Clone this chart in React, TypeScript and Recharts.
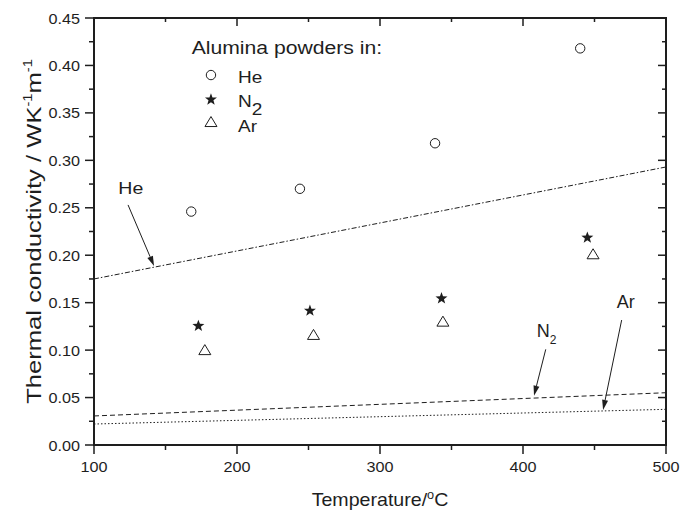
import React from 'react';
import { ComposedChart, XAxis, YAxis, Line, Scatter, ReferenceLine, ReferenceDot } from 'recharts';

const FONT = '"Liberation Sans", Arial, Helvetica, sans-serif';
const INK = '#1e1e1e';

// ticks
const xMajorTicks = [100, 200, 300, 400, 500];
const xAllTicks = [100, 150, 200, 250, 300, 350, 400, 450, 500];
const yMajorTicks = [0, 0.05, 0.1, 0.15, 0.2, 0.25, 0.3, 0.35, 0.4, 0.45];
const yAllTicks = [0, 0.025, 0.05, 0.075, 0.1, 0.125, 0.15, 0.175, 0.2, 0.225, 0.25, 0.275, 0.3, 0.325, 0.35, 0.375, 0.4, 0.425, 0.45];

// axis range
const tMin = 100;
const tMax = 500;
const kMin = 0;
const kMax = 0.45;

// measured points: Alumina powders in He, N2, Ar
const heTemp = [168, 244, 338.5, 440];
const heK = [0.246, 0.27, 0.318, 0.418];
const n2Temp = [173, 251, 343, 445];
const n2K = [0.126, 0.142, 0.155, 0.219];
const arTemp = [177.5, 253.5, 344, 449];
const arK = [0.1, 0.116, 0.13, 0.201];

// model lines
const fitTemp = [100, 500];
const heFitK = [0.175, 0.293];
const n2FitK = [0.0306, 0.0551];
const arFitK = [0.0221, 0.0376];

const zip = (ts: number[], ks: number[]) => ts.map((t, i) => ({ t, k: ks[i] }));
const heData = zip(heTemp, heK);
const n2Data = zip(n2Temp, n2K);
const arData = zip(arTemp, arK);
const heFit = zip(fitTemp, heFitK);
const n2Fit = zip(fitTemp, n2FitK);
const arFit = zip(fitTemp, arFitK);

// frame and tick anchors (built from the axis ranges and tick lists)
const frameData = [
  { t: tMin, k: kMin },
  { t: tMax, k: kMin },
  { t: tMax, k: kMax },
  { t: tMin, k: kMax },
  { t: tMin, k: kMin },
];
const bottomTickData = xAllTicks.map((t) => ({ t, k: kMin, side: 'b' }));
const topTickData = xAllTicks.map((t) => ({ t, k: kMax, side: 't' }));
const leftTickData = yAllTicks.map((k) => ({ t: tMin, k, side: 'l' }));
const rightTickData = yAllTicks.map((k) => ({ t: tMax, k, side: 'r' }));

const isMajorX = (v: number) => xMajorTicks.some((m) => Math.abs(m - v) < 1e-9);
const isMajorY = (v: number) => yMajorTicks.some((m) => Math.abs(m - v) < 1e-9);

const TW = 1.5;

const TickMark = (p: any) => {
  const d = p.payload || p;
  const { cx, cy } = p;
  if (d.side === 'b') {
    const len = isMajorX(d.t) ? 9 : 5;
    return <path d={`M${cx},${cy} V${cy + len}`} stroke={INK} strokeWidth={TW} fill="none" />;
  }
  if (d.side === 't') {
    const len = isMajorX(d.t) ? 8 : 4;
    return <path d={`M${cx},${cy} V${cy + len}`} stroke={INK} strokeWidth={TW} fill="none" />;
  }
  if (d.side === 'l') {
    const len = isMajorY(d.k) ? 9 : 5;
    return <path d={`M${cx},${cy} H${cx - len}`} stroke={INK} strokeWidth={TW} fill="none" />;
  }
  const len = isMajorY(d.k) ? 8 : 4;
  return <path d={`M${cx},${cy} H${cx - len}`} stroke={INK} strokeWidth={TW} fill="none" />;
};

const BottomTick = (p: any) => {
  const { x, y, payload } = p;
  if (!isMajorX(payload.value)) return <g />;
  return (
    <text transform={`translate(${x},${y + 27}) scale(1.08,1)`} textAnchor="middle" fontFamily={FONT} fontSize={15} fill={INK}>
      {payload.value}
    </text>
  );
};
const LeftTick = (p: any) => {
  const { x, y, payload } = p;
  if (!isMajorY(payload.value)) return <g />;
  return (
    <text transform={`translate(${x - 14},${y + 5.5}) scale(1.08,1)`} textAnchor="end" fontFamily={FONT} fontSize={15} fill={INK}>
      {Number(payload.value).toFixed(2)}
    </text>
  );
};

const YTitleShape = (p: any) => (
  <text transform={`translate(${p.cx - 53},${p.cy}) rotate(-90) scale(1.22,1)`} textAnchor="middle" fontFamily={FONT} fontSize={21} fill={INK}>
    Thermal conductivity / WK
    <tspan dy={-9} fontSize={12}>-1</tspan>
    <tspan dy={9}>m</tspan>
    <tspan dy={-9} fontSize={12}>-1</tspan>
  </text>
);
const XTitleShape = (p: any) => (
  <text transform={`translate(${p.cx},${p.cy + 61}) scale(1.06,1)`} textAnchor="middle" fontFamily={FONT} fontSize={18.5} fill={INK}>
    Temperature/
    <tspan dy={-7} fontSize={12}>o</tspan>
    <tspan dy={7}>C</tspan>
  </text>
);

const circlePath = (cx: number, cy: number) => <circle cx={cx} cy={cy} r={4.7} fill="none" stroke={INK} strokeWidth={1} />;
const starPath = (cx: number, cy: number) => {
  const pts: string[] = [];
  for (let i = 0; i < 10; i++) {
    const r = i % 2 === 0 ? 6.3 : 2.6;
    const a = -Math.PI / 2 + (i * Math.PI) / 5;
    pts.push(`${cx + r * Math.cos(a)},${cy + 0.5 + r * Math.sin(a)}`);
  }
  return <polygon points={pts.join(' ')} fill={INK} stroke="none" />;
};
const triPath = (cx: number, cy: number) => (
  <polygon points={`${cx},${cy - 5.5} ${cx - 6},${cy + 4.5} ${cx + 6},${cy + 4.5}`} fill="none" stroke={INK} strokeWidth={1} />
);

const CircleShape = (p: any) => circlePath(p.cx, p.cy);
const StarShape = (p: any) => starPath(p.cx, p.cy);
const TriShape = (p: any) => triPath(p.cx, p.cy);

const ArrowShape = (p: any) => {
  const { x1, y1, x2, y2 } = p;
  const dx = x2 - x1;
  const dy = y2 - y1;
  const len = Math.sqrt(dx * dx + dy * dy) || 1;
  const ux = dx / len;
  const uy = dy / len;
  const hl = 10;
  const hw = 3;
  const bx = x2 - ux * hl;
  const by = y2 - uy * hl;
  return (
    <g>
      <line x1={x1} y1={y1} x2={bx} y2={by} stroke={INK} strokeWidth={1} />
      <polygon points={`${x2},${y2} ${bx - uy * hw},${by + ux * hw} ${bx + uy * hw},${by - ux * hw}`} fill={INK} />
    </g>
  );
};

const LegendShape = (p: any) => {
  const { cx, cy } = p;
  return (
    <g transform={`translate(${cx},${cy})`}>
      <text transform="scale(1.21,1)" fontFamily={FONT} fontSize={17.5} fill={INK}>Alumina powders in:</text>
      {circlePath(19.3, 20.7)}
      {starPath(19.3, 44.7)}
      {triPath(19.3, 67.7)}
      <text transform="translate(46.3,29) scale(1.12,1)" fontFamily={FONT} fontSize={17} fill={INK}>He</text>
      <text transform="translate(46.3,53) scale(1.12,1)" fontFamily={FONT} fontSize={17} fill={INK}>
        N<tspan dy={8}>2</tspan>
      </text>
      <text transform="translate(46.3,77.4) scale(1.12,1)" fontFamily={FONT} fontSize={17} fill={INK}>Ar</text>
    </g>
  );
};

const textShape = (content: React.ReactNode, size: number, sx: number) => (p: any) => (
  <text transform={`translate(${p.cx},${p.cy}) scale(${sx},1)`} fontFamily={FONT} fontSize={size} fill={INK}>
    {content}
  </text>
);

export default function App() {
  return (
    <div style={{ position: 'absolute', left: 0, top: 0, background: '#fff' }}>
      <ComposedChart width={681} height={512} margin={{ top: 18, right: 15, bottom: 0, left: 0 }}>
        <XAxis
          xAxisId="b"
          dataKey="t"
          type="number"
          domain={[tMin, tMax]}
          ticks={xAllTicks}
          interval={0}
          height={67}
          tickSize={0}
          tickMargin={0}
          tickLine={false}
          axisLine={{ stroke: INK, strokeWidth: 2 }}
          tick={<BottomTick />}
        />
        <YAxis
          yAxisId="l"
          dataKey="k"
          type="number"
          domain={[kMin, kMax]}
          ticks={yAllTicks}
          interval={0}
          width={94}
          tickSize={0}
          tickMargin={0}
          tickLine={false}
          axisLine={{ stroke: INK, strokeWidth: 2 }}
          tick={<LeftTick />}
        />

        <Line xAxisId="b" yAxisId="l" data={frameData} dataKey="k" type="linear" stroke={INK} strokeWidth={2} strokeLinecap="square" dot={false} isAnimationActive={false} />

        <Line xAxisId="b" yAxisId="l" data={heFit} dataKey="k" type="linear" stroke={INK} strokeWidth={1} strokeDasharray="5 2 1.5 2" dot={false} isAnimationActive={false} />
        <Line xAxisId="b" yAxisId="l" data={n2Fit} dataKey="k" type="linear" stroke={INK} strokeWidth={1} strokeDasharray="5 3" dot={false} isAnimationActive={false} />
        <Line xAxisId="b" yAxisId="l" data={arFit} dataKey="k" type="linear" stroke={INK} strokeWidth={1} strokeDasharray="1.5 2" dot={false} isAnimationActive={false} />

        <Scatter xAxisId="b" yAxisId="l" data={bottomTickData} dataKey="k" shape={TickMark} isAnimationActive={false} />
        <Scatter xAxisId="b" yAxisId="l" data={topTickData} dataKey="k" shape={TickMark} isAnimationActive={false} />
        <Scatter xAxisId="b" yAxisId="l" data={leftTickData} dataKey="k" shape={TickMark} isAnimationActive={false} />
        <Scatter xAxisId="b" yAxisId="l" data={rightTickData} dataKey="k" shape={TickMark} isAnimationActive={false} />

        <Scatter xAxisId="b" yAxisId="l" data={heData} dataKey="k" shape={CircleShape} isAnimationActive={false} />
        <Scatter xAxisId="b" yAxisId="l" data={n2Data} dataKey="k" shape={StarShape} isAnimationActive={false} />
        <Scatter xAxisId="b" yAxisId="l" data={arData} dataKey="k" shape={TriShape} isAnimationActive={false} />

        <ReferenceLine xAxisId="b" yAxisId="l" segment={[{ x: 123.8, y: 0.253 }, { x: 142, y: 0.1886 }]} shape={ArrowShape} />
        <ReferenceLine xAxisId="b" yAxisId="l" segment={[{ x: 415.9, y: 0.1008 }, { x: 407.7, y: 0.052 }]} shape={ArrowShape} />
        <ReferenceLine xAxisId="b" yAxisId="l" segment={[{ x: 469, y: 0.1317 }, { x: 456, y: 0.0369 }]} shape={ArrowShape} />

        <ReferenceDot xAxisId="b" yAxisId="l" x={117} y={0.264} r={0} shape={textShape('He', 17, 1.15)} />
        <ReferenceDot
          xAxisId="b"
          yAxisId="l"
          x={409.6}
          y={0.1141}
          r={0}
          shape={textShape(
            <>
              N<tspan dy={7.3} fontSize={12}>2</tspan>
            </>,
            18,
            1
          )}
        />
        <ReferenceDot xAxisId="b" yAxisId="l" x={465.5} y={0.144} r={0} shape={textShape('Ar', 18, 1)} />

        <ReferenceDot xAxisId="b" yAxisId="l" x={168.3} y={0.4117} r={0} shape={LegendShape} />

        <ReferenceDot xAxisId="b" yAxisId="l" x={300} y={0} r={0} ifOverflow="visible" shape={XTitleShape} />
        <ReferenceDot xAxisId="b" yAxisId="l" x={100} y={0.225} r={0} ifOverflow="visible" shape={YTitleShape} />
      </ComposedChart>
    </div>
  );
}
